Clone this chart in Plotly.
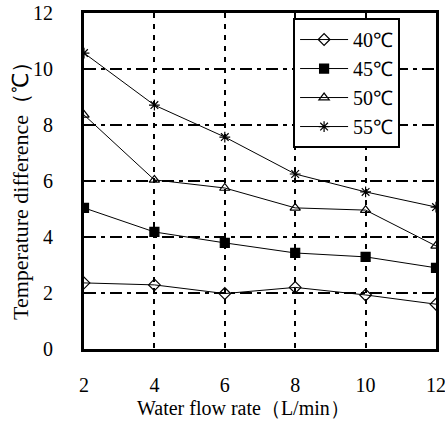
import plotly.graph_objects as go

flow = [2, 4, 6, 8, 10, 12]
t40 = [2.36, 2.29, 1.98, 2.2, 1.93, 1.6]
t45 = [5.04, 4.18, 3.79, 3.43, 3.29, 2.9]
t50 = [8.36, 6.04, 5.75, 5.04, 4.96, 3.68]
t55 = [10.57, 8.71, 7.57, 6.25, 5.61, 5.07]
names = ["40℃", "45℃", "50℃", "55℃"]
series = [t40, t45, t50, t55]
symbols = ["diamond-open", "square", "triangle-up-open", "asterisk-open"]
x_title = "Water flow rate（L/min）"
y_title = "Temperature difference（℃）"

fig = go.Figure()
for n, s, sym in zip(names, series, symbols):
    fig.add_trace(go.Scatter(
        x=flow, y=s, name=n, mode="lines+markers",
        line=dict(color="black", width=1),
        marker=dict(symbol=sym, size=9, color="black",
                    line=dict(color="black", width=1.2)),
    ))

serif = "Liberation Serif"
fig.update_layout(
    width=445, height=421,
    margin=dict(l=84, r=9, t=13, b=72, autoexpand=False),
    paper_bgcolor="white", plot_bgcolor="white",
    font=dict(family=serif, color="black", size=18),
    legend=dict(
        x=0.594, y=0.985, xanchor="left", yanchor="top",
        bgcolor="white", bordercolor="black", borderwidth=2,
        font=dict(family="Liberation Sans Narrow", size=20),
        itemwidth=48,
    ),
    showlegend=True,
    annotations=[
        dict(text=x_title, xref="paper", yref="paper", x=0.452, y=-0.176,
             xanchor="center", yanchor="middle", showarrow=False,
             font=dict(family=serif, size=20)),
        dict(text=y_title, xref="paper", yref="paper", x=-0.182, y=0.488,
             xanchor="center", yanchor="middle", showarrow=False, textangle=-90,
             font=dict(family=serif, size=22)),
    ],
)
fig.update_xaxes(
    range=[2, 12], tickvals=flow, ticktext=[str(v) for v in flow],
    showgrid=True, gridcolor="black", gridwidth=1.5, griddash="5px,6px",
    showline=True, linecolor="black", linewidth=3, mirror=True,
    ticks="", ticklabelstandoff=16, zeroline=False, automargin=False,
    ticklabeloverflow="allow",
    tickfont=dict(family=serif, size=20),
)
fig.update_yaxes(
    range=[0, 12], tickvals=[0, 2, 4, 6, 8, 10, 12],
    showgrid=True, gridcolor="black", gridwidth=1.5, griddash="12px,5px,4px,5px",
    showline=True, linecolor="black", linewidth=3, mirror=True,
    ticks="", ticklabelstandoff=24, zeroline=False, automargin=False,
    ticklabeloverflow="allow",
    tickfont=dict(family=serif, size=20),
)
fig.write_html("out.html")
